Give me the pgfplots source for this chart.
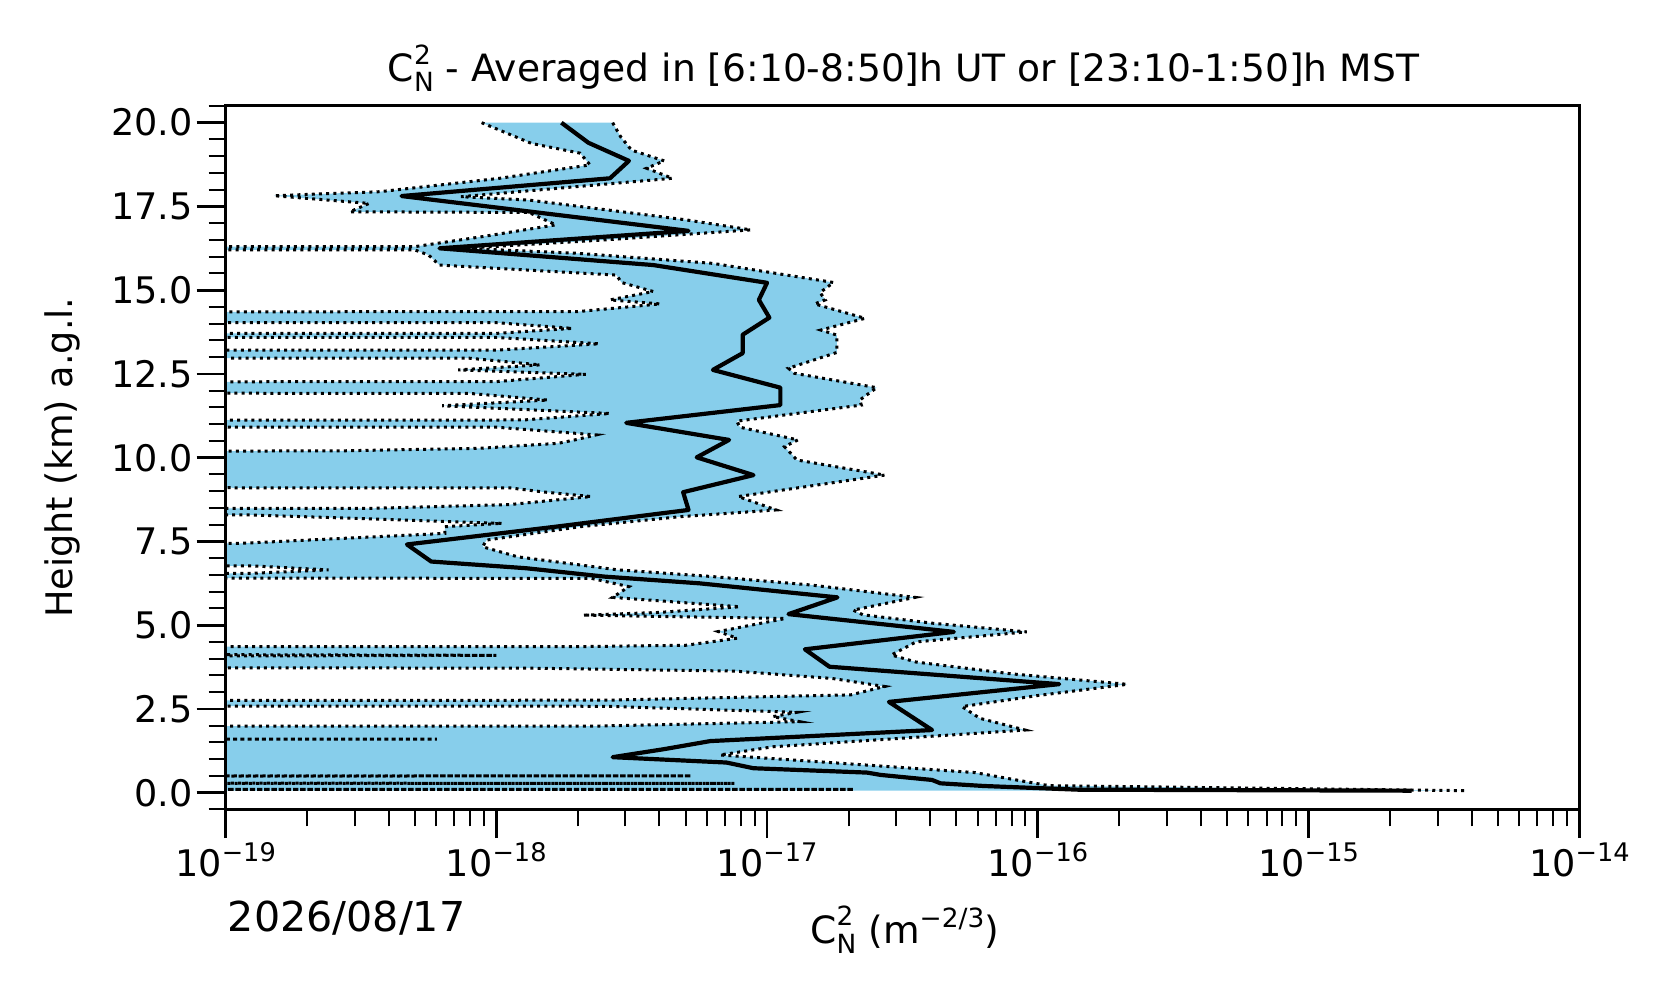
\documentclass[border=0pt]{standalone}
\usepackage{fontspec}
\setmainfont{DejaVu Sans}
\usepackage{pgfplots}
\pgfplotsset{compat=1.18}
\usepackage{pgfplotstable}
\usepgfplotslibrary{fillbetween}
\definecolor{skyblue}{RGB}{135,206,235}
\newcommand\tp[1]{10\raisebox{0.41em}{\fontsize{6.4}{6.4}\selectfont −#1}}
\newcommand\CN{C\rlap{\raisebox{0.46em}{\fontsize{6.6}{6.6}\selectfont 2}}\raisebox{-0.27em}{\fontsize{6.6}{6.6}\selectfont N}}

\pgfplotstableread{
h c
20.00 1.74e-18
19.40 2.19e-18
18.86 3.09e-18
18.34 2.63e-18
17.81 4.47e-19
17.36 1.29e-18
16.77 5.13e-18
16.25 6.17e-19
15.75 3.80e-18
15.22 1.00e-17
14.71 9.33e-18
14.18 1.02e-17
13.67 8.13e-18
13.12 8.13e-18
12.62 6.31e-18
12.09 1.12e-17
11.57 1.12e-17
11.04 3.02e-18
10.53 7.24e-18
10.01 5.50e-18
9.48 8.91e-18
8.97 4.90e-18
8.44 5.13e-18
7.94 1.66e-18
7.41 4.68e-19
6.90 5.75e-19
6.70 1.29e-18
6.45 2.51e-18
6.25 5.62e-18
5.83 1.82e-17
5.33 1.20e-17
4.80 4.90e-17
4.28 1.38e-17
3.76 1.70e-17
3.24 1.20e-16
2.71 2.82e-17
1.87 4.07e-17
1.54 6.17e-18
1.30 4.17e-18
1.06 2.69e-18
0.90 7.08e-18
0.73 8.91e-18
0.60 2.34e-17
0.53 2.63e-17
0.38 4.07e-17
0.28 4.37e-17
0.20 6.31e-17
0.09 1.41e-16
0.06 2.40e-15
}\meantab

\pgfplotstableread{
h c
20.00 2.69e-18
19.58 2.88e-18
19.18 3.16e-18
18.86 4.17e-18
18.64 3.59e-18
18.34 4.47e-18
17.79 7.41e-19
17.69 1.32e-18
17.10 5.01e-18
16.80 8.71e-18
16.50 2.51e-18
16.25 7.59e-19
16.10 2.00e-18
15.80 6.31e-18
15.23 1.76e-17
14.93 1.57e-17
14.71 1.64e-17
14.59 1.50e-17
14.16 2.30e-17
13.81 1.58e-17
13.66 1.81e-17
13.14 1.81e-17
12.67 1.20e-17
12.52 1.26e-17
12.09 2.54e-17
11.72 2.20e-17
11.57 2.23e-17
11.09 7.73e-18
10.91 7.94e-18
10.53 1.30e-17
10.33 1.16e-17
9.93 1.29e-17
9.48 2.72e-17
8.84 7.83e-18
8.44 1.08e-17
8.24 4.79e-18
7.94 2.04e-18
7.54 9.20e-19
7.34 8.91e-19
7.04 1.20e-18
6.65 2.82e-18
6.45 6.31e-18
6.20 1.45e-17
5.83 3.52e-17
5.45 2.08e-17
5.31 2.26e-17
5.06 4.07e-17
4.80 9.10e-17
4.50 3.55e-17
4.11 2.88e-17
3.90 3.55e-17
3.55 7.94e-17
3.235 2.14e-16
2.90 1.00e-16
2.57 5.25e-17
2.22 6.11e-17
1.87 8.97e-17
1.37 1.05e-17
1.125 6.70e-18
0.88 1.86e-17
0.60 5.86e-17
0.38 8.32e-17
0.21 1.10e-16
0.06 3.80e-15
}\uppertab

\pgfplotstableread{
h c
20.00 8.83e-19
19.38 1.35e-18
19.09 2.04e-18
18.74 2.22e-18
18.34 1.03e-18
17.94 3.72e-19
17.82 1.51e-19
17.59 3.39e-19
17.34 2.88e-19
17.32 1.32e-18
16.95 1.66e-18
16.60 8.91e-19
16.30 5.01e-19
16.25 1e-60
16.20 5.01e-19
16.05 5.62e-19
15.75 6.17e-19
15.45 2.78e-18
15.23 2.90e-18
14.96 3.80e-18
14.71 2.63e-18
14.59 4.03e-18
14.36 2.00e-18
14.17 1e-60
14.03 1.00e-18
13.86 1.91e-18
13.71 1.00e-18
13.65 1e-60
13.59 1.00e-18
13.40 2.40e-18
13.21 1.00e-18
13.10 1e-60
12.97 7.94e-19
12.77 1.45e-18
12.62 7.24e-19
12.49 2.14e-18
12.27 1.00e-18
12.10 1e-60
11.92 7.94e-19
11.72 1.55e-18
11.55 6.31e-19
11.32 2.63e-18
11.125 1.26e-18
11.02 1e-60
10.91 1.00e-18
10.68 2.34e-18
10.55 2.00e-18
10.43 1.70e-18
10.28 8.71e-19
10.20 2.51e-19
10.10 1e-60
9.60 1e-60
9.20 1e-60
9.10 1.12e-18
8.98 1.48e-18
8.84 2.24e-18
8.60 1.12e-18
8.49 3.55e-19
8.40 1e-60
8.29 1.26e-19
8.04 1.05e-18
7.94 6.46e-19
7.74 6.46e-19
7.44 1.12e-19
7.35 1e-60
7.00 1e-60
6.85 1e-60
6.77 1.26e-19
6.65 2.40e-19
6.55 1.26e-19
6.47 1e-60
6.40 2.24e-18
6.15 3.09e-18
5.83 2.69e-18
5.55 7.94e-18
5.38 3.98e-18
5.30 2.09e-18
5.20 1.17e-17
4.81 6.61e-18
4.61 7.76e-18
4.40 5.01e-18
4.36 2.00e-18
4.28 1e-60
4.16 1e-21
4.10 1.00e-18
4.04 1e-21
3.90 1e-60
3.72 1.26e-18
3.63 7.59e-18
3.41 1.74e-17
3.17 2.72e-17
2.92 2.04e-17
2.76 2.51e-18
2.66 1e-60
2.58 2.51e-18
2.40 1.29e-17
2.27 1.05e-17
2.12 1.32e-17
1.99 2.40e-18
1.92 1e-60
1.66 1e-60
1.60 6.03e-19
1.54 1e-60
1.20 1e-60
0.80 1e-60
0.56 1e-60
0.50 5.25e-18
0.42 1e-60
0.34 1e-60
0.28 7.59e-18
0.20 1e-60
0.14 1e-60
0.10 2.09e-17
0.06 1e-60
}\lowertab

\begin{document}
\begin{tikzpicture}
\begin{axis}[
  set layers, axis on top,
  scale only axis, width=338.45pt, height=175.875pt,
  xmode=log, xmin=1e-19, xmax=1e-14, ymin=-0.5, ymax=20.5,
  xtick={1e-19,1e-18,1e-17,1e-16,1e-15,1e-14},
  xticklabels={\tp{19},\tp{18},\tp{17},\tp{16},\tp{15},\tp{14}},
  minor xtick={2e-19,3e-19,4e-19,5e-19,6e-19,7e-19,8e-19,9e-19,
    2e-18,3e-18,4e-18,5e-18,6e-18,7e-18,8e-18,9e-18,
    2e-17,3e-17,4e-17,5e-17,6e-17,7e-17,8e-17,9e-17,
    2e-16,3e-16,4e-16,5e-16,6e-16,7e-16,8e-16,9e-16,
    2e-15,3e-15,4e-15,5e-15,6e-15,7e-15,8e-15,9e-15},
  ytick={0,2.5,5,7.5,10,12.5,15,17.5,20},
  minor ytick={-0.5,0,...,20.5},
  tick align=outside, xtick pos=bottom, ytick pos=left,
  major tick length=7.2pt, minor tick length=4.25pt,
  every major tick/.style={line width=0.7pt, black},
  every minor tick/.style={line width=0.5pt, black},
  axis line style={line width=0.75pt, black},
  tick label style={font=\fontsize{9.15}{11}\selectfont, inner sep=0pt},
  xticklabel style={anchor=base, yshift=-9.66pt},
  yticklabel style={anchor=east, xshift=-0.85pt, /pgf/number format/fixed, /pgf/number format/fixed zerofill, /pgf/number format/precision=1, /pgf/number format/assume math mode=true},
]
\addplot[name path=U, black, line width=0.75pt, dash pattern=on 0.75pt off 1.05pt] table[x=c,y=h] {\uppertab};
\addplot[name path=L, black, line width=0.75pt, dash pattern=on 0.75pt off 1.05pt] table[x=c,y=h] {\lowertab};
\addplot[skyblue, draw=none] fill between[of=U and L];
\addplot[black, line width=1.05pt, line join=round] table[x=c,y=h] {\meantab};
\end{axis}
\node[anchor=base, inner sep=0pt] at (169.5pt,181.94pt) {\fontsize{9.4}{11}\selectfont \CN\ - Averaged in [6:10-8:50]h UT or [23:10-1:50]h MST};
\node[rotate=90, anchor=base, inner sep=0pt] at (-38.3pt,87.94pt) {\fontsize{9.15}{11}\selectfont Height (km) a.g.l.};
\node[anchor=base, inner sep=0pt] at (169.8pt,-33.46pt) {\fontsize{9.4}{11}\selectfont \CN\ (m\raisebox{0.41em}{\fontsize{6.6}{6.6}\selectfont −2/3})};
\node[anchor=base west, inner sep=0pt] at (0.4pt,-30.56pt) {\fontsize{10.3}{12}\selectfont 2026/08/17};
\pgfresetboundingbox
\path[use as bounding box] (-56.375pt,-48.39pt) rectangle (362.625pt,202.36pt);
\end{tikzpicture}
\end{document}
